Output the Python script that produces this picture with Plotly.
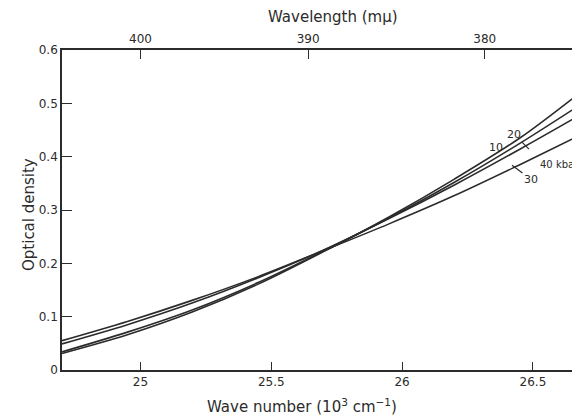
import plotly.graph_objects as go

# Wave number (10^3 cm^-1)
wavenumber = [24.7, 24.95, 25.2, 25.45, 25.7, 25.95, 26.2, 26.45, 26.68]
# Optical density for each pressure (kbar)
od_10 = [0.031, 0.066, 0.109, 0.161, 0.222, 0.287, 0.358, 0.435, 0.520]
od_20 = [0.034, 0.071, 0.113, 0.164, 0.223, 0.285, 0.352, 0.425, 0.497]
od_30 = [0.049, 0.085, 0.126, 0.173, 0.225, 0.284, 0.347, 0.414, 0.478]
od_40 = [0.055, 0.091, 0.131, 0.175, 0.224, 0.274, 0.327, 0.385, 0.440]

x_ticks = [25, 25.5, 26, 26.5]
x_ticktext = ["25", "25.5", "26", "26.5"]
y_ticks = [0, 0.1, 0.2, 0.3, 0.4, 0.5, 0.6]
y_ticktext = ["0", "0.1", "0.2", "0.3", "0.4", "0.5", "0.6"]
wavelengths = [400, 390, 380]  # m-mu

x_range = [24.7, 26.68]
y_range = [0, 0.6]

ink = "#2b2b2b"
font = dict(family="DejaVu Sans", size=12, color=ink)
title_font = dict(family="DejaVu Sans", size=15, color=ink)

fig = go.Figure()
for ys in (od_10, od_20, od_30, od_40):
    fig.add_trace(go.Scatter(x=wavenumber, y=ys, mode="lines",
                             line=dict(color=ink, width=1.6, shape="spline", smoothing=0.9),
                             showlegend=False, hoverinfo="skip"))

# invisible traces to activate the top and right axes
fig.add_trace(go.Scatter(x=[x_range[0]], y=[0], xaxis="x2", yaxis="y",
                         mode="markers", marker=dict(opacity=0), showlegend=False, hoverinfo="skip"))
fig.add_trace(go.Scatter(x=[x_range[0]], y=[0], xaxis="x", yaxis="y2",
                         mode="markers", marker=dict(opacity=0), showlegend=False, hoverinfo="skip"))

# page body has an 8px default margin, so the figure is sized to fill the rest of the window
fig.update_layout(
    width=572, height=410,
    margin=dict(l=54, r=0, t=42, b=48, autoexpand=False),
    paper_bgcolor="white", plot_bgcolor="white",
    font=font,
    xaxis=dict(range=x_range, tickvals=x_ticks, ticktext=x_ticktext,
               ticks="inside", ticklen=8, tickwidth=1.3, tickcolor=ink,
               showline=True, linecolor=ink, linewidth=1.6, automargin=False,
               showgrid=False, zeroline=False, tickfont=font),
    xaxis2=dict(range=x_range, overlaying="x", side="top",
                tickvals=[1e4 / w for w in wavelengths],
                ticktext=[str(w) for w in wavelengths],
                ticks="inside", ticklen=9, tickwidth=1.3, tickcolor=ink,
                showline=True, linecolor=ink, linewidth=1.6, automargin=False,
                showgrid=False, zeroline=False, tickfont=font),
    yaxis=dict(range=y_range, tickvals=y_ticks, ticktext=y_ticktext,
               ticks="inside", ticklen=10, tickwidth=1.3, tickcolor=ink,
               showline=True, linecolor=ink, linewidth=1.6, automargin=False,
               showgrid=False, zeroline=False, tickfont=font),
    yaxis2=dict(range=y_range, overlaying="y", side="right", automargin=False,
                tickvals=y_ticks[1:-1], ticks="inside", ticklen=7, tickwidth=1.3, tickcolor=ink,
                showticklabels=False, showline=False, showgrid=False, zeroline=False),
)

fig.add_annotation(xref="paper", yref="paper", x=0.523, y=1.0, yshift=22, text="Wavelength (m\u03bc)",
                   showarrow=False, font=title_font, yanchor="bottom")
fig.add_annotation(xref="paper", yref="paper", x=0.463, y=0, yshift=-24,
                   text="Wave number (10<sup>3</sup> cm<sup>\u22121</sup>)",
                   showarrow=False, font=title_font, yanchor="top")
fig.add_annotation(xref="paper", yref="paper", x=0, y=0.5, xshift=-44, yshift=-5, text="Optical density",
                   textangle=-90, showarrow=False, font=title_font)

ann_font = dict(family="DejaVu Sans", size=11, color=ink)
fig.add_annotation(x=26.36, y=0.418, text="10", showarrow=False, font=ann_font)
fig.add_annotation(x=26.485, y=0.414, ax=-15, ay=-15, text="20", showarrow=True,
                   arrowhead=0, arrowwidth=1.2, arrowcolor=ink, font=ann_font)
fig.add_annotation(x=26.42, y=0.384, ax=19, ay=14, text="30", showarrow=True,
                   arrowhead=0, arrowwidth=1.2, arrowcolor=ink, font=ann_font)
fig.add_annotation(x=26.519, y=0.386, text="40 kbar", showarrow=False, xanchor="left",
                   font=dict(family="DejaVu Sans", size=10, color=ink))

fig.write_html("out.html")
